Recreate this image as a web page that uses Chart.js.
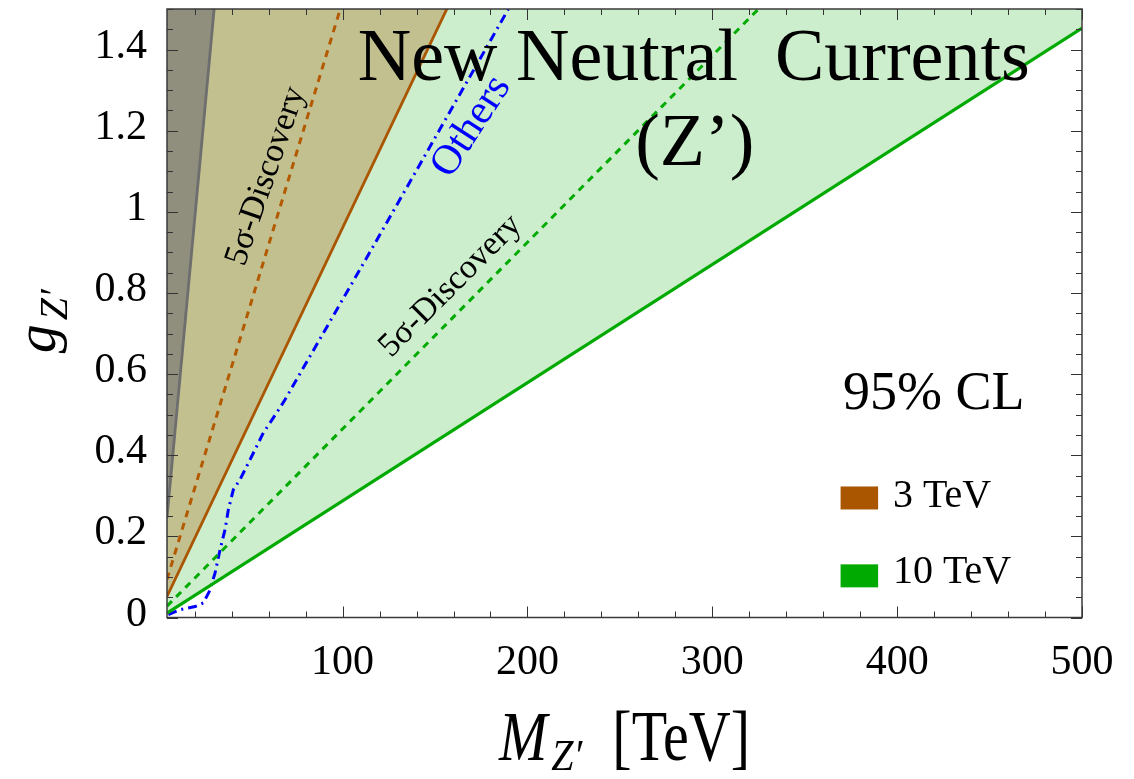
<!DOCTYPE html>
<html>
<head>
<meta charset="utf-8">
<title>Z' reach</title>
<script src="https://cdn.jsdelivr.net/npm/chart.js@4.4.1/dist/chart.umd.min.js"></script>
<style>
  html, body { margin: 0; padding: 0; background: #fff; }
  #wrap { width: 1134px; height: 779px; position: relative; }
</style>
</head>
<body>
<div id="wrap"><canvas id="chart"></canvas></div>
<script>
// Axis ranges (TeV, coupling)
const massRange = [5, 500];
const couplingRange = [0, 1.5];

// Tick values and their labels
const xTickValues = [100, 200, 300, 400, 500];
const xTickLabels = ['100', '200', '300', '400', '500'];
const yTickValues = [0, 0.2, 0.4, 0.6, 0.8, 1.0, 1.2, 1.4];
const yTickLabels = ['0', '0.2', '0.4', '0.6', '0.8', '1', '1.2', '1.4'];
const xMinorStep = 20;
const yMinorStep = 0.05;

// Curves as [M (TeV), g] pairs
const excludedEdge = [[5, 0.246], [30.5, 1.5]];
const reach3TeV = [[5, 0.052], [157, 1.506]];
const reach10TeV = [[5, 0.011], [500, 1.453]];
const discovery3TeV = [[5, 0.094], [100, 1.519]];
const discovery10TeV = [[5, 0.028], [330, 1.523]];
const othersBound = [
  [5.7, 0.007], [12, 0.019], [20.2, 0.027], [24.7, 0.036], [28.3, 0.068],
  [31, 0.11], [33.7, 0.167], [36.4, 0.217], [38.2, 0.266], [40.9, 0.315],
  [44.5, 0.34], [50.9, 0.398], [57.1, 0.455], [64.4, 0.505], [68.9, 0.5375],
  [116.7, 0.916], [152.7, 1.204], [189.7, 1.5]
];

// Legend entries
const legendNames = ['3 TeV', '10 TeV'];
const legendColors = ['#aa5500', '#00aa00'];

const SERIF = "'Liberation Serif', 'DejaVu Serif', serif";

const pts = arr => arr.map(([x, y]) => ({ x, y }));

function line(data, color, width, dash, fill, bg) {
  return {
    data: pts(data),
    borderColor: color,
    borderWidth: width,
    borderDash: dash || [],
    pointRadius: 0,
    tension: 0,
    fill: fill || false,
    backgroundColor: bg || 'transparent',
    clip: 0
  };
}

function drawText(ctx, text, px, py, o) {
  ctx.save();
  ctx.translate(px, py);
  if (o.angle) ctx.rotate(o.angle * Math.PI / 180);
  if (o.stretch) ctx.scale(1, o.stretch);
  ctx.font = o.font;
  ctx.fillStyle = o.color || '#000';
  ctx.textAlign = o.align || 'left';
  ctx.textBaseline = o.baseline || 'alphabetic';
  ctx.fillText(text, 0, 0);
  ctx.restore();
}

function noScalePadding(s) {
  s.paddingTop = 0; s.paddingBottom = 0; s.paddingLeft = 0; s.paddingRight = 0;
}

const decorations = {
  id: 'decorations',
  afterDatasetsDraw(chart) {
    const { ctx, chartArea: a, scales: { x, y } } = chart;
    ctx.save();
    ctx.strokeStyle = '#333';
    ctx.lineWidth = 1;
    // minor and major ticks on all four sides
    for (let i = 1; i * xMinorStep <= massRange[1]; i++) {
      const v = i * xMinorStep;
      if (v < massRange[0]) continue;
      const len = (v % 100 === 0) ? 11 : 6;
      const px = Math.round(x.getPixelForValue(v)) + 0.5;
      ctx.beginPath();
      ctx.moveTo(px, a.bottom); ctx.lineTo(px, a.bottom - len);
      ctx.moveTo(px, a.top); ctx.lineTo(px, a.top + len);
      ctx.stroke();
    }
    for (let i = 0; i * yMinorStep <= couplingRange[1] + 1e-9; i++) {
      const v = i * yMinorStep;
      const len = (i % 4 === 0) ? 11 : 6;
      const py = Math.round(y.getPixelForValue(v)) + 0.5;
      ctx.beginPath();
      ctx.moveTo(a.left, py); ctx.lineTo(a.left + len, py);
      ctx.moveTo(a.right, py); ctx.lineTo(a.right - len, py);
      ctx.stroke();
    }
    // plot frame
    ctx.lineWidth = 1.5;
    ctx.strokeStyle = '#3a3a3a';
    ctx.strokeRect(a.left, a.top, a.right - a.left, a.bottom - a.top);
    ctx.restore();
  },
  afterDraw(chart) {
    const { ctx, chartArea: a, scales: { x, y } } = chart;
    const X = v => x.getPixelForValue(v);
    const Y = v => y.getPixelForValue(v);

    // headline
    drawText(ctx, 'New Neutral  Currents', X(290), Y(1.325),
      { font: `74px ${SERIF}`, align: 'center' });
    drawText(ctx, '(Z\u2019)', X(290.5), Y(1.115),
      { font: `74px ${SERIF}`, align: 'center' });

    // rotated curve labels
    drawText(ctx, '5\u03c3-Discovery', X(58.6), Y(1.088),
      { font: `34px ${SERIF}`, align: 'center', baseline: 'middle', angle: -71 });
    drawText(ctx, '5\u03c3-Discovery', X(158.4), Y(0.817),
      { font: `34px ${SERIF}`, align: 'center', baseline: 'middle', angle: -45 });
    drawText(ctx, 'Others', X(169.7), Y(1.21),
      { font: `42px ${SERIF}`, align: 'center', baseline: 'middle', angle: -57, color: '#0000ff' });

    // confidence level and legend
    drawText(ctx, '95% CL', X(370.7), Y(0.514), { font: `54px ${SERIF}` });
    const boxes = [0.323, 0.131];
    const textG = [0.273, 0.086];
    legendNames.forEach((name, i) => {
      ctx.save();
      ctx.fillStyle = legendColors[i];
      const bx = X(369.4), bw = X(389.7) - X(369.4);
      const by = Y(boxes[i]);
      ctx.fillRect(bx, by, bw, 23);
      ctx.restore();
      drawText(ctx, name, X(397.7), Y(textG[i]), { font: `40px ${SERIF}` });
    });

    // x axis title: M_{Z'} [TeV]
    const cx = (a.left + a.right) / 2;
    const base = 760;
    const fMain = `italic 58px ${SERIF}`;
    const fSub = `italic 40px ${SERIF}`;
    const fUp = `58px ${SERIF}`;
    ctx.save();
    ctx.font = fMain; const wM = ctx.measureText('M').width;
    ctx.font = fSub; const wS = ctx.measureText('Z\u2032').width;
    ctx.font = fUp; const wT = ctx.measureText('[TeV]').width;
    ctx.restore();
    const gap1 = 4, gap2 = 30;
    let left = cx - (wM + gap1 + wS + gap2 + wT) / 2;
    drawText(ctx, 'M', left, base, { font: fMain, stretch: 1.2 });
    drawText(ctx, 'Z\u2032', left + wM + gap1, base + 10, { font: fSub, stretch: 1.1 });
    drawText(ctx, '[TeV]', left + wM + gap1 + wS + gap2, base, { font: fUp, stretch: 1.25 });

    // y axis title: g_{Z'}
    const cy = (a.top + a.bottom) / 2 + 8;
    ctx.save();
    ctx.font = fMain; const wg = ctx.measureText('g').width;
    ctx.restore();
    const total = wg + 4 + wS;
    const start = cy + total / 2;
    drawText(ctx, 'g', 55, start, { font: fMain, angle: -90 });
    drawText(ctx, 'Z\u2032', 67, start - wg - 4, { font: fSub, angle: -90 });
  }
};

Chart.defaults.color = '#000';
Chart.defaults.font.family = SERIF;

new Chart(document.getElementById('chart'), {
  type: 'line',
  data: {
    datasets: [
      line(excludedEdge, '#6e6e6e', 2.8, null, 'end', 'rgba(118,118,116,0.66)'),
      line(reach3TeV, '#aa5500', 2.8, null, 'end', 'rgba(170,85,0,0.3)'),
      line(reach10TeV, '#00aa00', 3.2, null, 'end', 'rgba(0,170,0,0.2)'),
      line(discovery3TeV, '#b35a00', 3, [7, 6]),
      line(discovery10TeV, '#00aa00', 3, [7, 6]),
      line(othersBound, '#0000ff', 3, [9, 5, 2, 5])
    ]
  },
  options: {
    responsive: true,
    maintainAspectRatio: false,
    animation: false,
    layout: { padding: { top: 9, right: 52, left: 0, bottom: 0 } },
    plugins: {
      legend: { display: false },
      tooltip: { enabled: false },
      filler: { drawTime: 'beforeDatasetsDraw' }
    },
    scales: {
      x: {
        type: 'linear',
        min: massRange[0],
        max: massRange[1],
        grid: { display: false },
        border: { display: false },
        afterBuildTicks: s => { s.ticks = xTickValues.map(v => ({ value: v })); },
        afterFit: s => { s.height = 161.5; noScalePadding(s); },
        ticks: {
          autoSkip: false,
          maxRotation: 0,
          padding: 12,
          font: { size: 42, family: SERIF },
          callback: v => xTickLabels[xTickValues.indexOf(v)]
        }
      },
      y: {
        type: 'linear',
        min: couplingRange[0],
        max: couplingRange[1],
        grid: { display: false },
        border: { display: false },
        afterBuildTicks: s => { s.ticks = yTickValues.map(v => ({ value: v })); },
        afterFit: s => { s.width = 167; noScalePadding(s); },
        ticks: {
          autoSkip: false,
          padding: 12,
          labelOffset: -3,
          font: { size: 42, family: SERIF },
          callback: v => yTickLabels[yTickValues.findIndex(t => Math.abs(t - v) < 1e-9)]
        }
      }
    }
  },
  plugins: [decorations]
});
</script>
</body>
</html>
